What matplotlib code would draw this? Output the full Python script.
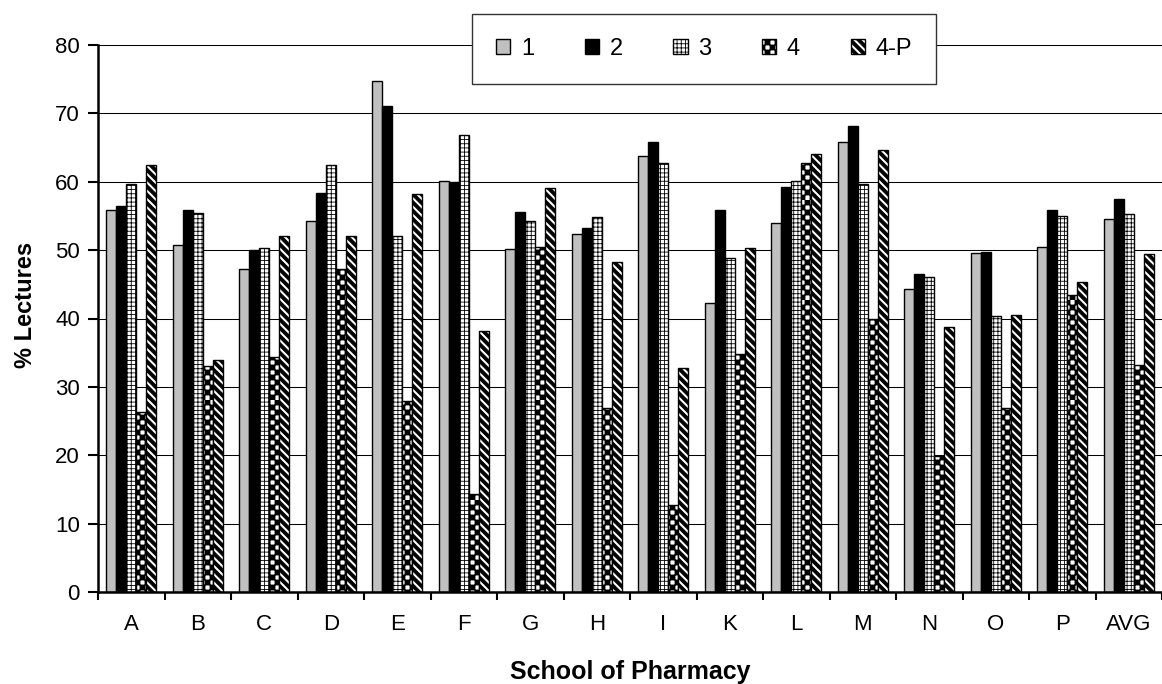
import warnings
import numpy as np
import matplotlib
matplotlib.use("Agg")
import matplotlib.pyplot as plt
import matplotlib.hatch as mhatch
from matplotlib.path import Path

warnings.filterwarnings("ignore")

# data
schools = ['A', 'B', 'C', 'D', 'E', 'F', 'G', 'H', 'I', 'K', 'L', 'M', 'N', 'O', 'P', 'AVG']
series_names = ['1', '2', '3', '4', '4-P']
s1 = [55.8, 50.7, 47.3, 54.2, 74.8, 60.1, 50.2, 52.3, 63.7, 42.2, 53.9, 65.8, 44.3, 49.6, 50.5, 54.5]
s2 = [56.4, 55.8, 50.0, 58.3, 71.1, 59.9, 55.6, 53.2, 65.8, 55.9, 59.3, 68.2, 46.5, 49.7, 55.9, 57.5]
s3 = [59.6, 55.5, 50.3, 62.5, 52.0, 66.8, 54.2, 54.8, 62.8, 48.8, 60.1, 59.6, 46.0, 40.3, 55.0, 55.3]
s4 = [26.3, 33.1, 34.4, 47.3, 28.0, 14.3, 50.4, 26.9, 12.7, 34.8, 62.8, 40.0, 19.9, 26.9, 43.5, 33.2]
s4p = [62.5, 33.9, 52.0, 52.0, 58.2, 38.1, 59.1, 48.3, 32.8, 50.3, 64.1, 64.7, 38.7, 40.5, 45.3, 49.4]


# Excel-like fill patterns that matplotlib lacks: checkerboard ('c') and bold stripes ('k')
class CheckerHatch(mhatch.HatchPatternBase):
    def __init__(self, hatch, density):
        self.cells = 20 if 'c' in hatch else 0
        self.num_vertices = (self.cells * self.cells // 2) * 5

    def set_vertices_and_codes(self, vertices, codes):
        n = self.cells
        s = 1.0 / n
        k = 0
        for i in range(n):
            for j in range(n):
                if (i + j) % 2 == 0:
                    x0, y0 = i * s, j * s
                    vertices[k:k + 5] = [(x0, y0), (x0 + s, y0), (x0 + s, y0 + s),
                                         (x0, y0 + s), (x0, y0)]
                    codes[k:k + 5] = [Path.MOVETO, Path.LINETO, Path.LINETO,
                                      Path.LINETO, Path.CLOSEPOLY]
                    k += 5


class BoldStripeHatch(mhatch.HatchPatternBase):
    def __init__(self, hatch, density):
        self.n = 12 if 'k' in hatch else 0
        self.num_vertices = (2 * self.n + 2) * 5 if self.n else 0

    def set_vertices_and_codes(self, vertices, codes):
        n = self.n
        w = 0.042
        k = 0
        for m in range(-1, 2 * n + 1):
            c = m / n
            vertices[k:k + 5] = [(c + 1, -1), (c - 2, 2), (c + w - 2, 2),
                                 (c + w + 1, -1), (c + 1, -1)]
            codes[k:k + 5] = [Path.MOVETO, Path.LINETO, Path.LINETO,
                              Path.LINETO, Path.CLOSEPOLY]
            k += 5


mhatch._hatch_types.append(CheckerHatch)
mhatch._hatch_types.append(BoldStripeHatch)

plt.rcParams['font.family'] = ['Liberation Sans', 'DejaVu Sans']
plt.rcParams['hatch.linewidth'] = 0.6
plt.rcParams['hatch.color'] = 'black'

fig = plt.figure(figsize=(11.62, 6.84), dpi=100)
W, H = 1162, 684
left_px, right_px, top_px, bottom_px = 98, 1162, 45, 592
ax = fig.add_axes([left_px / W, 1 - bottom_px / H,
                   (right_px - left_px) / W, (bottom_px - top_px) / H])

cat_px = 67.2
x = np.arange(len(schools))
bw = 0.15
all_series = [s1, s2, s3, s4, s4p]
fills = ['#C0C0C0', 'black', 'white', 'white', 'white']
hatches = [None, None, '++++', 'c', 'k']

for i, (vals, name) in enumerate(zip(all_series, series_names)):
    ax.bar(x + (i - 2) * bw, vals, bw, color=fills[i], edgecolor='black',
           linewidth=1.0, hatch=hatches[i], label=name, zorder=2)

ax.set_ylim(0, 80)
ax.set_xlim(-0.5, -0.5 + (right_px - left_px) / cat_px)
ax.set_yticks(np.arange(0, 81, 10))
ax.yaxis.grid(True, color='black', linewidth=0.75)
ax.set_axisbelow(True)

ax.set_xticks(x)
ax.set_xticklabels(schools)
ax.set_xticks(np.arange(-0.5, len(schools) + 0.5, 1), minor=True)
ax.tick_params(axis='x', which='major', length=0, labelsize=16, pad=16)
ax.tick_params(axis='x', which='minor', length=6, width=1.5, direction='out')
ax.tick_params(axis='y', length=7, width=1.5, direction='out', labelsize=16, pad=6)

for side in ['top', 'right']:
    ax.spines[side].set_visible(False)
ax.spines['left'].set_linewidth(1.8)
ax.spines['bottom'].set_linewidth(1.8)

ax.set_ylabel('% Lectures', fontsize=17, fontweight='bold')
ax.yaxis.set_label_coords(-0.057, 0.525)
ax.set_xlabel('School of Pharmacy', fontsize=18, fontweight='bold', labelpad=18)

leg = ax.legend(ncol=5, loc='center', bbox_to_anchor=(704 / W, 1 - 49 / H),
                bbox_transform=fig.transFigure, fontsize=17, frameon=True,
                fancybox=False, handlelength=0.6, handleheight=0.6,
                handletextpad=0.45, columnspacing=2.15, borderpad=1.0)
leg.get_frame().set_edgecolor('#333333')
leg.get_frame().set_linewidth(1.0)
leg.get_frame().set_alpha(1)

fig.savefig('out.png', dpi=100)
